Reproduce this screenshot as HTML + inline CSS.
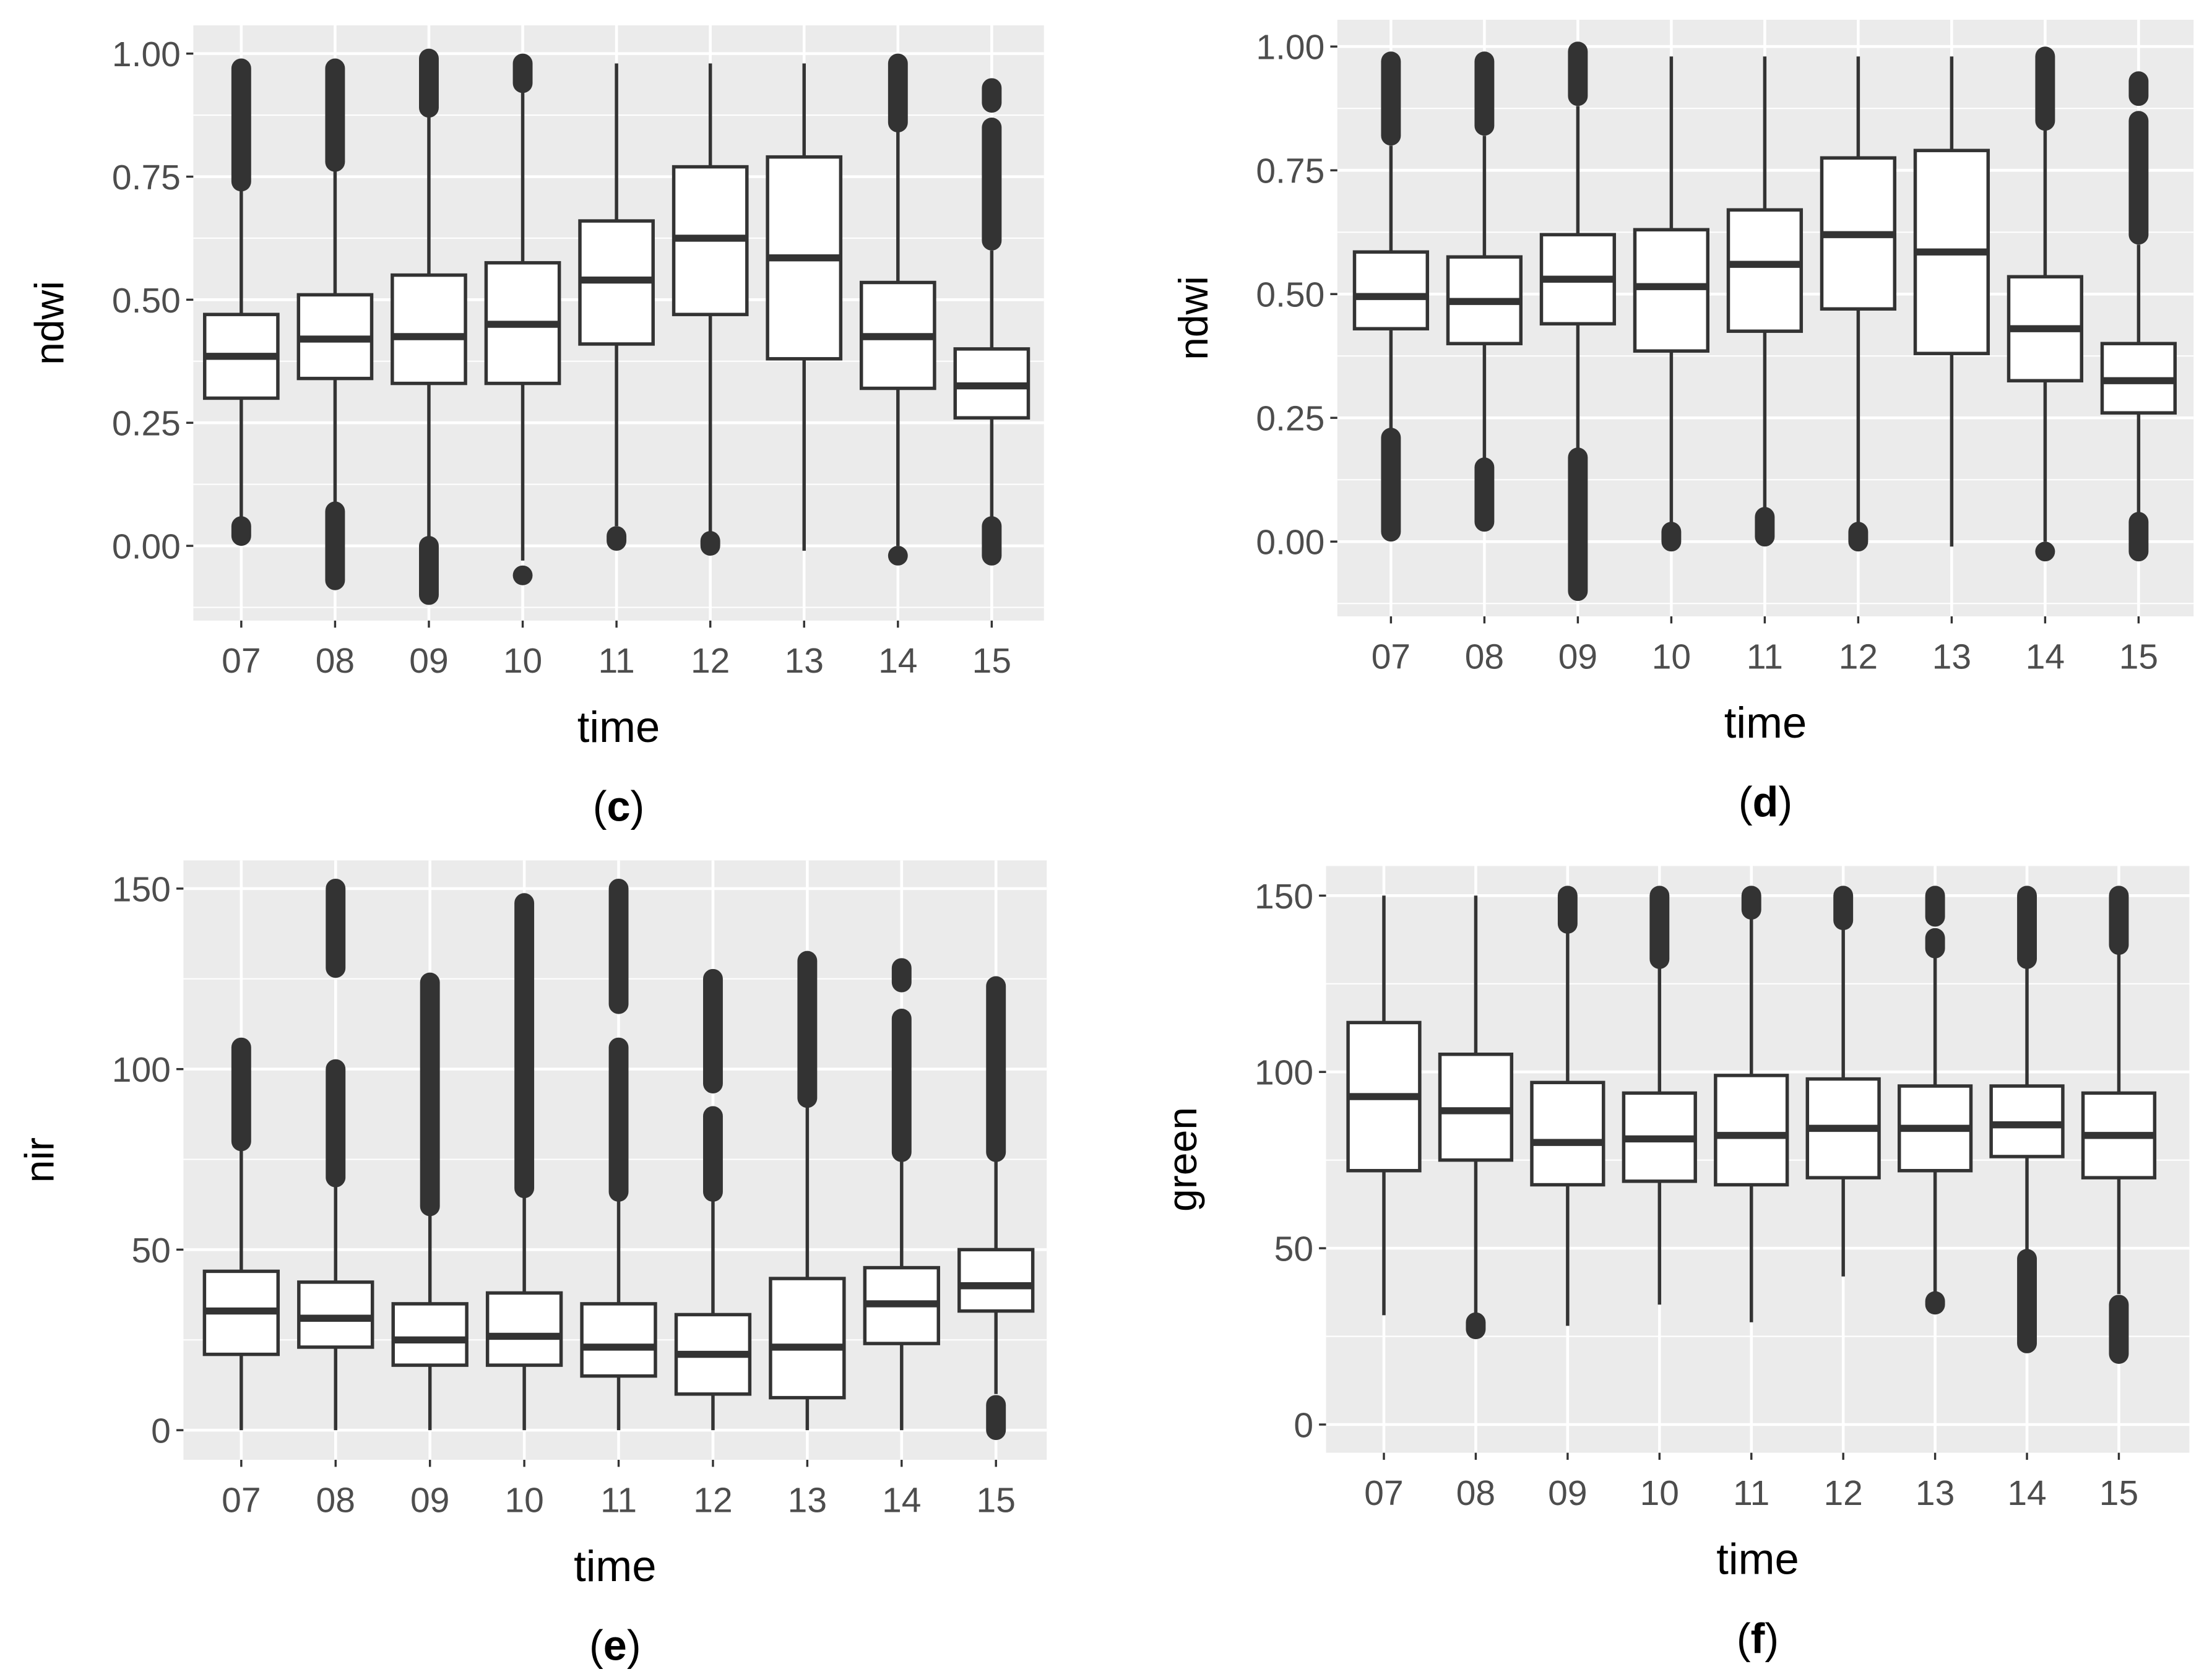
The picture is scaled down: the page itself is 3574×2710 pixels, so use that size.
<!DOCTYPE html>
<html><head><meta charset="utf-8">
<style>
html,body{margin:0;padding:0;background:#fff;}
svg{display:block;}
text{font-family:"Liberation Sans",sans-serif;}
</style></head>
<body>
<svg id="chart" width="3574" height="2710" viewBox="0 0 1568 1189" xmlns="http://www.w3.org/2000/svg"></svg>
<script>
const categories = ["07","08","09","10","11","12","13","14","15"];

// Panel c (ndwi)
const cQ1 = [0.30,0.34,0.33,0.33,0.41,0.47,0.38,0.32,0.26];
const cMed = [0.385,0.42,0.425,0.45,0.54,0.625,0.585,0.425,0.325];
const cQ3 = [0.47,0.51,0.55,0.575,0.66,0.77,0.79,0.535,0.40];
const cLo = [0.05,0.09,0.01,-0.03,0.04,0.02,-0.01,0.00,0.05];
const cHi = [0.73,0.77,0.88,0.93,0.98,0.98,0.98,0.85,0.60];
const cOut = [[[0.02,0.04],[0.74,0.97]],[[-0.07,0.07],[0.78,0.97]],[[-0.10,0.00],[0.89,0.99]],[[-0.06,-0.06],[0.94,0.98]],[[0.01,0.02]],[[0.00,0.01]],[],[[-0.02,-0.02],[0.86,0.98]],[[-0.02,0.04],[0.62,0.85],[0.90,0.93]]];
const cTicks = [0,0.25,0.5,0.75,1.0];
const cTickLabels = ["0.00","0.25","0.50","0.75","1.00"];

// Panel d (ndwi)
const dQ1 = [0.43,0.40,0.44,0.385,0.425,0.47,0.38,0.325,0.26];
const dMed = [0.495,0.485,0.53,0.515,0.56,0.62,0.585,0.43,0.325];
const dQ3 = [0.585,0.575,0.62,0.63,0.67,0.775,0.79,0.535,0.40];
const dLo = [0.22,0.16,0.18,0.03,0.06,0.02,-0.01,0.00,0.05];
const dHi = [0.80,0.82,0.88,0.98,0.98,0.98,0.98,0.84,0.60];
const dOut = [[[0.02,0.21],[0.82,0.97]],[[0.04,0.15],[0.84,0.97]],[[-0.10,0.17],[0.90,0.99]],[[0.00,0.02]],[[0.01,0.05]],[[0.00,0.02]],[],[[-0.02,-0.02],[0.85,0.98]],[[-0.02,0.04],[0.62,0.85],[0.90,0.93]]];
const dTicks = [0,0.25,0.5,0.75,1.0];
const dTickLabels = ["0.00","0.25","0.50","0.75","1.00"];

// Panel e (nir)
const eQ1 = [21,23,18,18,15,10,9,24,33];
const eMed = [33,31,25,26,23,21,23,35,40];
const eQ3 = [44,41,35,38,35,32,42,45,50];
const eLo = [0,0,0,0,0,0,0,0,10];
const eHi = [78,68,60,65,64,65,90,75,75];
const eOut = [[[80,106]],[[70,100],[128,150]],[[62,124]],[[67,146]],[[66,106],[118,150]],[[66,87],[96,125]],[[92,130]],[[77,114],[124,128]],[[0,7],[77,123]]];
const eTicks = [0,50,100,150];
const eTickLabels = ["0","50","100","150"];

// Panel f (green)
const fQ1 = [72,75,68,69,68,70,72,76,70];
const fMed = [93,89,80,81,82,84,84,85,82];
const fQ3 = [114,105,97,94,99,98,96,96,94];
const fLo = [31,30,28,34,29,42,37,48,37];
const fHi = [150,150,140,130,145,142,135,130,135];
const fOut = [[],[[27,29]],[[142,150]],[[132,150]],[[146,150]],[[143,150]],[[34,35],[135,138],[144,150]],[[23,47],[132,150]],[[20,34],[136,150]]];
const fTicks = [0,50,100,150];
const fTickLabels = ["0","50","100","150"];

const NS = "http://www.w3.org/2000/svg";
const svg = document.getElementById("chart");
function mk(tag, attrs, parent){
  const e = document.createElementNS(NS, tag);
  for (const k in attrs) e.setAttribute(k, attrs[k]);
  (parent||svg).appendChild(e);
  return e;
}

function panel(key, box, yv0, yp0, yv1, yp1, x0, x1, q1, med, q3, lo, hi, outs, ticks, tickLabels, ylabel, title, caption) {
  const g = mk("g", {});
  
  
  const y = v => yp0 + (v - yv0) * (yp1 - yp0) / (yv1 - yv0);
  const step = (x1 - x0) / (categories.length - 1);
  const x = i => x0 + i * step;
  const bg = mk("rect", {x:box[0], y:box[1], width:box[2]-box[0], height:box[3]-box[1], fill:"#EBEBEB"}, g);
  
  
  for (let i = 0; i < ticks.length + 1; i++) {
    const t = ticks[0] + (i - 0.5) * (ticks[1] - ticks[0]);
    const py = y(t);
    if (py > box[1] && py < box[3]) {
      const l = mk("line", {x1:box[0], x2:box[2], y1:py, y2:py, stroke:"#fff", "stroke-width":0.9}, g);
      
      
    }
  }
  ticks.forEach((t, i) => {
    const py = y(t);
    const l = mk("line", {x1:box[0], x2:box[2], y1:py, y2:py, stroke:"#fff", "stroke-width":2}, g);
    
    
    const tk = mk("line", {x1:box[0]-5, x2:box[0], y1:py, y2:py, stroke:"#333", "stroke-width":1.5}, g);
    
    
    const tx = mk("text", {x:box[0]-9, y:py+9, "text-anchor":"end", "font-size":25, fill:"#4D4D4D"}, g);
    tx.textContent = tickLabels[i];
    
    
  });
  categories.forEach((c, i) => {
    const px = x(i);
    const l = mk("line", {x1:px, x2:px, y1:box[1], y2:box[3], stroke:"#fff", "stroke-width":2}, g);
    
    
    const tk = mk("line", {x1:px, x2:px, y1:box[3], y2:box[3]+5, stroke:"#333", "stroke-width":1.5}, g);
    
    
    const tx = mk("text", {x:px, y:box[3]+37, "text-anchor":"middle", "font-size":25, fill:"#4D4D4D"}, g);
    tx.textContent = c;
    
    
  });
  const bw = step * 0.78;
  categories.forEach((c, i) => {
    const px = x(i);
    const bg2 = mk("g", {}, g);
    
    
    mk("line", {x1:px, x2:px, y1:y(lo[i]), y2:y(q1[i]), stroke:"#333", "stroke-width":2.4}, bg2);
    mk("line", {x1:px, x2:px, y1:y(q3[i]), y2:y(hi[i]), stroke:"#333", "stroke-width":2.4}, bg2);
    mk("rect", {x:px-bw/2, y:y(q3[i]), width:bw, height:y(q1[i])-y(q3[i]), fill:"#fff", stroke:"#333", "stroke-width":2.4}, bg2);
    mk("line", {x1:px-bw/2, x2:px+bw/2, y1:y(med[i]), y2:y(med[i]), stroke:"#333", "stroke-width":5}, bg2);
    outs[i].forEach(r => {
      const o = mk("line", {x1:px, x2:px, y1:y(r[0]), y2:y(r[1]), stroke:"#333", "stroke-width":14, "stroke-linecap":"round"}, bg2);
      
      
    });
  });
  const yl = mk("text", {x:0, y:0, "text-anchor":"middle", "font-size":29, fill:"#000", transform:`translate(${box[0]-92},${(box[1]+box[3])/2}) rotate(-90)`}, g);
  yl.textContent = ylabel;
  
  
  const xl = mk("text", {x:(box[0]+box[2])/2, y:box[3]+86, "text-anchor":"middle", "font-size":31, fill:"#000"}, g);
  xl.textContent = title;
  
  
  const cp = mk("text", {x:(box[0]+box[2])/2, y:box[3]+142, "text-anchor":"middle", "font-size":30, fill:"#000", "font-family":"Liberation Serif, serif"}, g);
  cp.innerHTML = '(<tspan font-weight="bold">' + caption + '</tspan>)';
  
  
}

panel("c", [137,18,740,440], 0, 387, 1, 38, 171, 703, cQ1,cMed,cQ3,cLo,cHi,cOut,cTicks,cTickLabels,"ndwi","time","c");
panel("d", [948,14,1555,437], 0, 384, 1, 33, 986, 1516, dQ1,dMed,dQ3,dLo,dHi,dOut,dTicks,dTickLabels,"ndwi","time","d");
panel("e", [130,610,742,1035], 0, 1014, 150, 630, 171, 706, eQ1,eMed,eQ3,eLo,eHi,eOut,eTicks,eTickLabels,"nir","time","e");
panel("f", [940,614,1552,1030], 0, 1010, 150, 635, 981, 1502, fQ1,fMed,fQ3,fLo,fHi,fOut,fTicks,fTickLabels,"green","time","f");
</script>
</body></html>
